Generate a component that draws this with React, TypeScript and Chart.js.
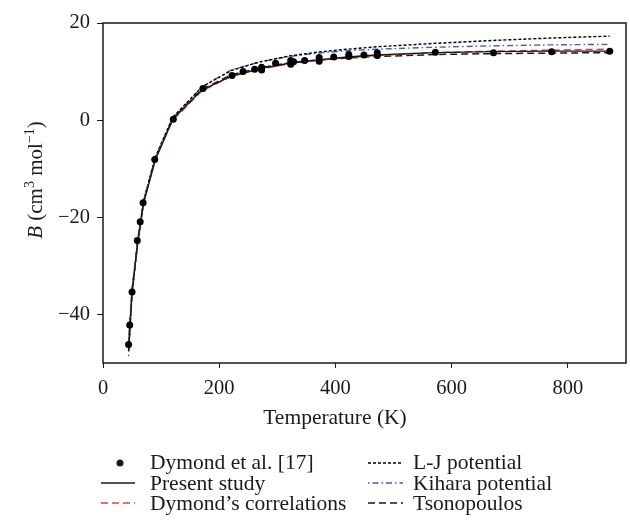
import React, { useEffect, useRef } from "react";
import { Chart, registerables } from "chart.js";

Chart.register(...registerables);

// Experimental points (Dymond et al. [17])
const dymondT = [44, 46, 50, 59, 64, 69, 89, 121, 172, 222, 241, 261, 273, 273, 297, 323, 323, 328, 347, 372, 372, 397, 423, 423, 449, 472, 472, 572, 672, 772, 872];
const dymondB = [-46.2, -42.2, -35.4, -24.8, -20.9, -17.0, -8.1, 0.2, 6.5, 9.2, 10.0, 10.5, 10.9, 10.3, 11.7, 12.3, 11.5, 12.0, 12.3, 12.9, 12.1, 13.0, 13.5, 13.1, 13.4, 13.9, 13.3, 14.0, 13.9, 14.1, 14.2];

// Temperatures used for the model curves
const curveT = [44, 50, 60, 70, 90, 120, 170, 220, 270, 320, 370, 420, 470, 570, 670, 770, 872];
const presentB = [-47.0, -35.3, -25.0, -17.0, -8.2, 0.2, 6.2, 9.0, 10.6, 11.7, 12.4, 13.0, 13.4, 13.9, 14.1, 14.2, 14.2];
const dymondCorrB = [-46.0, -35.0, -24.7, -16.8, -8.0, 0.0, 6.0, 9.0, 10.5, 11.6, 12.3, 12.9, 13.3, 13.9, 14.2, 14.4, 14.6];
const ljB = [-47.5, -35.5, -24.8, -16.5, -7.6, 0.6, 6.8, 10.2, 12.0, 13.2, 14.0, 14.6, 15.1, 15.8, 16.4, 16.9, 17.3];
const kiharaB = [-48.6, -36.0, -25.0, -16.7, -7.8, 0.4, 6.8, 10.3, 12.0, 13.1, 13.8, 14.3, 14.6, 15.0, 15.3, 15.5, 15.6];
const tsonopoulosB = [-46.5, -35.0, -24.6, -16.6, -7.9, 0.3, 6.3, 9.3, 10.8, 11.8, 12.4, 12.8, 13.1, 13.5, 13.7, 13.8, 13.9];

const xTicks = [0, 200, 400, 600, 800];
const yTicks = [-40, -20, 0, 20];

const legendLabels = [
  "Dymond et al. [17]",
  "Present study",
  "Dymond\u2019s correlations",
  "L-J potential",
  "Kihara potential",
  "Tsonopoulos",
];

const FONT = '"Liberation Serif", "DejaVu Serif", serif';
const INK = "#1a1a1a";
const RED = "#ee3b3b";
const BLUE = "#3b62bd";

const pts = (xs: number[], ys: number[]) => xs.map((x, i) => ({ x, y: ys[i] }));

const decoPlugin = {
  id: "deco",
  afterDraw(chart: any) {
    const { ctx, chartArea: a } = chart;
    ctx.save();
    // frame
    ctx.strokeStyle = INK;
    ctx.lineWidth = 1.5;
    ctx.setLineDash([]);
    ctx.strokeRect(a.left, a.top, a.right - a.left, a.bottom - a.top);

    ctx.fillStyle = INK;
    // x title
    ctx.font = `21.5px ${FONT}`;
    ctx.textAlign = "center";
    ctx.textBaseline = "alphabetic";
    ctx.fillText("Temperature (K)", 335, 424);

    // y title (rotated)
    const parts: { t: string; f: string; dy: number }[] = [
      { t: "B", f: `italic 21px ${FONT}`, dy: 0 },
      { t: " (cm", f: `21px ${FONT}`, dy: 0 },
      { t: "3", f: `14px ${FONT}`, dy: -8 },
      { t: " mol", f: `21px ${FONT}`, dy: 0 },
      { t: "\u22121", f: `14px ${FONT}`, dy: -8 },
      { t: ")", f: `21px ${FONT}`, dy: 0 },
    ];
    let total = 0;
    for (const p of parts) {
      ctx.font = p.f;
      total += ctx.measureText(p.t).width;
    }
    ctx.translate(42, 180);
    ctx.rotate(-Math.PI / 2);
    ctx.textAlign = "left";
    let cx = -total / 2;
    for (const p of parts) {
      ctx.font = p.f;
      ctx.fillText(p.t, cx, p.dy);
      cx += ctx.measureText(p.t).width;
    }
    ctx.restore();

    // legend
    ctx.save();
    ctx.font = `21.5px ${FONT}`;
    ctx.fillStyle = INK;
    ctx.textAlign = "left";
    ctx.textBaseline = "alphabetic";
    const rows = [463, 483, 503];
    const base = [469, 490, 510];
    const drawLine = (x1: number, x2: number, y: number, color: string, dash: number[], w: number) => {
      ctx.beginPath();
      ctx.strokeStyle = color;
      ctx.lineWidth = w;
      ctx.setLineDash(dash);
      ctx.moveTo(x1, y);
      ctx.lineTo(x2, y);
      ctx.stroke();
    };
    // col 1
    ctx.beginPath();
    ctx.arc(120, rows[0], 3.5, 0, Math.PI * 2);
    ctx.fill();
    drawLine(101, 135, rows[1], INK, [], 1.3);
    drawLine(101, 135, rows[2], RED, [7, 4], 1.5);
    ctx.fillText(legendLabels[0], 150, base[0]);
    ctx.fillText(legendLabels[1], 150, base[1]);
    ctx.fillText(legendLabels[2], 150, base[2]);
    // col 2
    drawLine(368, 403, rows[0], "#000", [3, 2], 1.4);
    drawLine(368, 403, rows[1], BLUE, [1.5, 3, 6, 3], 1.4);
    drawLine(368, 403, rows[2], INK, [7, 4], 1.5);
    ctx.fillText(legendLabels[3], 413, base[0]);
    ctx.fillText(legendLabels[4], 413, base[1]);
    ctx.fillText(legendLabels[5], 413, base[2]);
    ctx.restore();
  },
};

export default function App() {
  const ref = useRef<HTMLCanvasElement | null>(null);
  useEffect(() => {
    document.body.style.margin = "0";
    const canvas = ref.current;
    if (!canvas) return;
    const lineDs = (label: string, ys: number[], color: string, dash: number[], w: number) => ({
      label,
      data: pts(curveT, ys),
      showLine: true,
      borderColor: color,
      backgroundColor: color,
      borderDash: dash,
      borderWidth: w,
      pointRadius: 0,
      fill: false,
      tension: 0,
    });
    const chart = new Chart(canvas, {
      type: "scatter",
      data: {
        datasets: [
          {
            label: legendLabels[0],
            data: pts(dymondT, dymondB),
            showLine: false,
            pointRadius: 3.5,
            pointBackgroundColor: "#000",
            pointBorderColor: "#000",
            pointBorderWidth: 0,
          } as any,
          lineDs(legendLabels[1], presentB, INK, [], 1.4),
          lineDs(legendLabels[2], dymondCorrB, RED, [7, 4], 1.5),
          lineDs(legendLabels[3], ljB, "#000", [3, 2], 1.4),
          lineDs(legendLabels[4], kiharaB, BLUE, [1.5, 3, 6, 3], 1.4),
          lineDs(legendLabels[5], tsonopoulosB, INK, [7, 4], 1.5),
        ],
      },
      options: {
        animation: false,
        responsive: false,
        devicePixelRatio: 1,
        layout: { padding: { top: 23, right: 4, left: 0, bottom: 0 } },
        plugins: {
          legend: { display: false },
          tooltip: { enabled: false },
        },
        scales: {
          x: {
            type: "linear",
            min: 0,
            max: 900,
            afterBuildTicks: (s: any) => {
              s.ticks = xTicks.map((v) => ({ value: v }));
            },
            afterFit: (s: any) => {
              s.height = 162;
            },
            grid: { drawOnChartArea: false, drawTicks: true, tickLength: 5, color: INK, lineWidth: 1 },
            border: { display: false },
            ticks: { color: INK, padding: 8, font: { family: FONT, size: 20.5 }, maxRotation: 0 },
          },
          y: {
            type: "linear",
            min: -50,
            max: 20,
            afterBuildTicks: (s: any) => {
              s.ticks = yTicks.map((v) => ({ value: v }));
            },
            afterFit: (s: any) => {
              s.width = 103;
            },
            grid: { drawOnChartArea: false, drawTicks: true, tickLength: 6, color: INK, lineWidth: 1 },
            border: { display: false },
            ticks: {
              color: INK,
              padding: 7,
              font: { family: FONT, size: 20.5 },
              callback: (v: any) => (Number(v) < 0 ? "\u2212" + Math.abs(Number(v)) : String(v)),
            },
          },
        },
      },
      plugins: [decoPlugin],
    });
    return () => chart.destroy();
  }, []);
  return <canvas ref={ref} width={630} height={525} style={{ display: "block" }} />;
}
